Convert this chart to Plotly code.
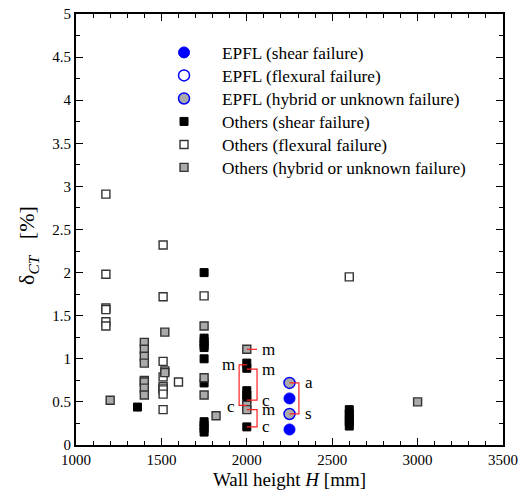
import plotly.graph_objects as go

# ---- data ----
epfl_shear_H = [2250, 2250]
epfl_shear_d = [0.54, 0.18]
epfl_flex_H = [None]          # no specimens in this class (legend entry only)
epfl_flex_d = [None]
epfl_hyb_H = [2250, 2250]
epfl_hyb_d = [0.72, 0.36]

oth_shear_H = [1360, 1750, 1750, 1750, 1750, 1750, 1750, 1750, 1750, 1750, 1750, 1750,
               2000, 2000, 2000, 2000, 2000, 2000, 2600, 2600, 2600, 2600, 2600]
oth_shear_d = [0.44, 2.00, 1.24, 1.20, 1.16, 1.13, 1.00, 0.72, 0.27, 0.23, 0.19, 0.15,
               0.95, 0.89, 0.63, 0.58, 0.53, 0.21, 0.41, 0.36, 0.31, 0.27, 0.22]

oth_flex_H = [1175, 1175, 1175, 1175, 1175, 1175,
              1510, 1510, 1510, 1510, 1510, 1510, 1510, 1510, 1510,
              1600, 1750, 2600]
oth_flex_d = [2.91, 1.98, 1.59, 1.57, 1.43, 1.38,
              2.32, 1.72, 0.97, 0.79, 0.68, 0.66, 0.64, 0.59, 0.41,
              0.73, 1.73, 1.95]

oth_hyb_H = [1200, 1400, 1400, 1400, 1400, 1400, 1400, 1400, 1400,
             1520, 1520, 1520, 1750, 1750, 1750, 1820, 2000, 2000, 2000, 3000]
oth_hyb_d = [0.52, 1.19, 1.11, 1.03, 0.95, 0.75, 0.73, 0.66, 0.58,
             1.31, 0.86, 0.84, 1.38, 0.78, 0.58, 0.34, 1.11, 0.46, 0.41, 0.50]

# bracket connectors (pairs of related specimens) and labels
brackets = [
    ([2000, 2060], [1.11, 1.11]),
    ([2000, 1955, 1955, 2000], [0.93, 0.93, 0.46, 0.46]),
    ([2000, 2060, 2060, 2000], [0.88, 0.88, 0.52, 0.52]),
    ([2000, 2060, 2060, 2000], [0.41, 0.41, 0.21, 0.21]),
    ([2250, 2305, 2305, 2250], [0.72, 0.72, 0.36, 0.36]),
]
label_text = ["m", "m", "c", "m", "c", "m", "c", "a", "s"]
label_H = [2080, 1945, 1945, 2080, 2080, 2080, 2080, 2330, 2330]
label_d = [1.11, 0.93, 0.45, 0.88, 0.52, 0.41, 0.21, 0.72, 0.36]
label_side = ["left", "right", "right", "left", "left", "left", "left", "left", "left"]

FONT = "Liberation Serif"
BLUE = "#0000ff"
GRAY = "#aaaaaa"
EDGE = "#333333"

series = [
    ("EPFL (shear failure)", epfl_shear_H, epfl_shear_d,
     dict(symbol="circle", size=11, color=BLUE, line=dict(color=BLUE, width=1))),
    ("EPFL (flexural failure)", epfl_flex_H, epfl_flex_d,
     dict(symbol="circle", size=11, color="white", line=dict(color=BLUE, width=1.5))),
    ("EPFL (hybrid or unknown failure)", epfl_hyb_H, epfl_hyb_d,
     dict(symbol="circle", size=11, color=GRAY, line=dict(color=BLUE, width=1.5))),
    ("Others (shear failure)", oth_shear_H, oth_shear_d,
     dict(symbol="square", size=8, color="black", line=dict(color="black", width=1))),
    ("Others (flexural failure)", oth_flex_H, oth_flex_d,
     dict(symbol="square", size=8, color="white", line=dict(color=EDGE, width=1.4))),
    ("Others (hybrid or unknown failure)", oth_hyb_H, oth_hyb_d,
     dict(symbol="square", size=8, color=GRAY, line=dict(color=EDGE, width=1.4))),
]

fig = go.Figure()
legend_ids = ["legend", "legend2", "legend3", "legend4", "legend5", "legend6"]
for (name, hx, dy, mk), lid in zip(series, legend_ids):
    fig.add_trace(go.Scatter(x=hx, y=dy, mode="markers", name=name, marker=mk, legend=lid))

for bx, by in brackets:
    fig.add_trace(go.Scatter(x=bx, y=by, mode="lines", showlegend=False, hoverinfo="skip",
                             line=dict(color="#ff2020", width=1.2)))

for t, hx, dy, side in zip(label_text, label_H, label_d, label_side):
    fig.add_annotation(x=hx, y=dy, text=t, showarrow=False, xanchor=side, yanchor="middle",
                       font=dict(family=FONT, size=17, color="black"))

fig.add_annotation(xref="paper", yref="paper", x=-0.1124, y=0.462,
                   text="δ<sub><i>CT</i></sub>\u00a0\u00a0\u00a0[%]",
                   textangle=-90, showarrow=False, xanchor="center", yanchor="middle",
                   font=dict(family=FONT, size=22, color="black"))

axis_common = dict(showline=True, linecolor="black", linewidth=1.8, mirror="allticks",
                   ticks="inside", ticklen=7, tickwidth=1, tickcolor="black",
                   showgrid=False, zeroline=False, ticklabeloverflow="allow",
                   tickfont=dict(family=FONT, size=15, color="black"))

fig.update_xaxes(range=[1000, 3500], dtick=500, tick0=1000,
                 minor=dict(ticks="inside", dtick=100, ticklen=4, tickcolor="black", tickwidth=1, showgrid=False),
                 title=dict(text="Wall height <i>H</i> [mm]", font=dict(family=FONT, size=19, color="black"), standoff=6),
                 **axis_common)
fig.update_yaxes(range=[0, 5], dtick=0.5, tick0=0,
                 minor=dict(ticks="inside", dtick=0.25, ticklen=4, tickcolor="black", tickwidth=1, showgrid=False),
                 **axis_common)

legend_y = [0.952, 0.8986, 0.8452, 0.7919, 0.7385, 0.6852]
leg_style = dict(x=0.164, xanchor="left", yanchor="top", bgcolor="rgba(0,0,0,0)",
                 itemwidth=66, font=dict(family=FONT, size=17.3, color="black"), borderwidth=0)
legend_layout = {lid: dict(y=ly, **leg_style) for lid, ly in zip(legend_ids, legend_y)}

fig.update_layout(
    width=519, height=486,
    margin=dict(l=68, r=24, t=6, b=49, autoexpand=False),
    plot_bgcolor="white", paper_bgcolor="white",
    font=dict(family=FONT, color="black"),
    showlegend=True,
    **legend_layout,
)

fig.write_html("out.html")
